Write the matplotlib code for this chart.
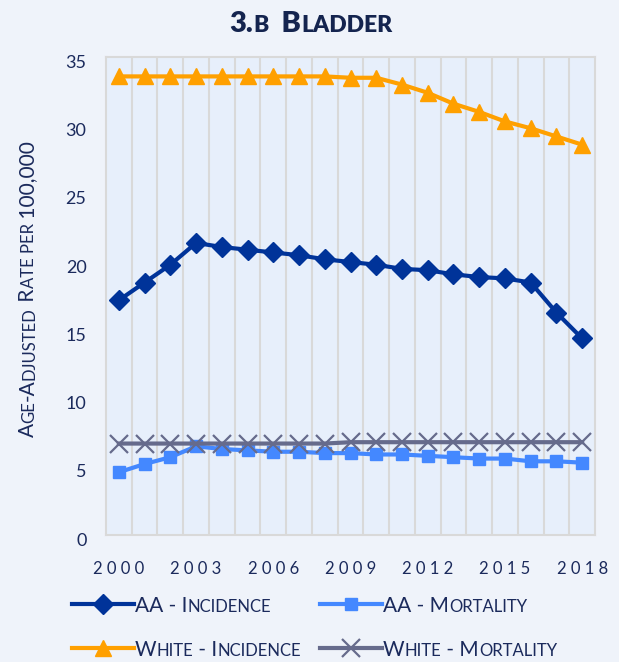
import matplotlib
matplotlib.use("Agg")
import matplotlib.pyplot as plt
from matplotlib.lines import Line2D
from matplotlib.transforms import offset_copy, ScaledTranslation

# --- data ---
years = list(range(2000, 2019))
aa_incidence = [17.2, 18.5, 19.8, 21.4, 21.1, 20.9, 20.7, 20.5, 20.2, 20.0,
                19.8, 19.5, 19.4, 19.1, 18.9, 18.8, 18.5, 16.3, 14.4]
aa_mortality = [4.6, 5.2, 5.7, 6.5, 6.3, 6.2, 6.1, 6.1, 6.0, 6.0,
                5.9, 5.9, 5.8, 5.7, 5.6, 5.6, 5.4, 5.4, 5.3]
white_incidence = [33.6, 33.6, 33.6, 33.6, 33.6, 33.6, 33.6, 33.6, 33.6, 33.5,
                   33.5, 33.0, 32.4, 31.6, 31.0, 30.3, 29.8, 29.2, 28.6]
white_mortality = [6.7, 6.7, 6.7, 6.7, 6.7, 6.7, 6.7, 6.7, 6.7, 6.8,
                   6.8, 6.8, 6.8, 6.8, 6.8, 6.8, 6.8, 6.8, 6.8]
label_years = [2000, 2003, 2006, 2009, 2012, 2015, 2018]
y_ticks = [0, 5, 10, 15, 20, 25, 30, 35]

series = [
    ("AA - Incidence", aa_incidence, "#003399", "D", 9.8),
    ("AA - Mortality", aa_mortality, "#4488FF", "s", 8.5),
    ("White - Incidence", white_incidence, "#FFA000", "^", 11),
    ("White - Mortality", white_mortality, "#666B8C", "x", 13),
]

TEXT = "#1B2A5C"
FONT = "Lato"
W, H = 619, 662


def px(x, y):
    return x / W, 1 - y / H


def caps_runs(s):
    # split a string into (text, is_small) runs to fake small caps
    runs = []
    pending = ""
    for ch in s:
        if ch == " ":
            pending += ch
            continue
        small = ch.islower()
        c = pending + ch.upper()
        pending = ""
        if runs and runs[-1][1] == small:
            runs[-1][0] += c
        else:
            runs.append([c, small])
    return runs


def small_caps(fig, x, y, s, big, small, rotation=0, align="left", color=TEXT, **kw):
    renderer = fig.canvas.get_renderer()
    texts = []
    for part, is_small in caps_runs(s):
        t = fig.text(x, y, part, fontsize=small if is_small else big,
                     ha="left", va="baseline", rotation=rotation,
                     rotation_mode="anchor", color=color, family=FONT, **kw)
        texts.append(t)
    sizes = []
    for t in texts:
        bb = t.get_window_extent(renderer)
        sizes.append(bb.height if rotation else bb.width)
    pos = -sum(sizes) / 2 if align == "center" else 0
    for t, w in zip(texts, sizes):
        if rotation:
            t.set_transform(offset_copy(fig.transFigure, fig=fig, x=0, y=pos, units="dots"))
        else:
            t.set_transform(offset_copy(fig.transFigure, fig=fig, x=pos, y=0, units="dots"))
        pos += w


fig = plt.figure(figsize=(6.19, 6.62), dpi=100, facecolor="#EFF3FA")
ax = fig.add_axes([106 / W, 1 - 535 / H, (595 - 106) / W, (535 - 57.3) / H])
ax.set_facecolor("#E7EFFB")

x = list(range(len(years)))
for name, vals, color, marker, ms in series:
    ax.plot(x, vals, color=color, lw=3, marker=marker, markersize=ms,
            markeredgewidth=1.6 if marker == "x" else 1, markeredgecolor=color,
            markerfacecolor=color, zorder=3)

ax.set_xlim(-0.5, len(years) - 0.5)
ax.set_ylim(0, 35)
ax.set_xticks([years.index(yr) for yr in label_years])
ax.set_xticklabels([" ".join(str(yr)) for yr in label_years])
ax.set_xticks([i + 0.5 for i in range(len(years) - 1)], minor=True)
ax.grid(True, which="minor", axis="x", color="#D9D9D9", lw=1.5)
ax.set_yticks(y_ticks)
ax.tick_params(axis="both", which="both", length=0, colors=TEXT)
ax.tick_params(axis="x", labelsize=12, pad=19)
ax.tick_params(axis="y", labelsize=13, pad=14)
for lab in ax.get_xticklabels():
    lab.set_family(FONT)
# the reference sets its y labels a few pixels under each tick
shift = ScaledTranslation(0, -4 / 100, fig.dpi_scale_trans)
for lab in ax.get_yticklabels():
    lab.set_family(FONT)
    lab.set_transform(lab.get_transform() + shift)
for sp in ax.spines.values():
    sp.set_color("#D9D9D9")
    sp.set_linewidth(1.5)

# title and axis label in small caps
tx, ty = px(311, 32)
small_caps(fig, tx, ty, "3.b  Bladder", 21, 16.5, align="center",
           fontweight="heavy", color="#14244F")
lx, ly = px(34, 289)
small_caps(fig, lx, ly, "Age-Adjusted Rate per 100,000", 15, 12, rotation=90, align="center")

# legend drawn by hand in two rows
legend_pos = [(72, 604), (320, 604), (72, 648), (320, 648)]
for (name, vals, color, marker, ms), (lx0, ly0) in zip(series, legend_pos):
    x0, y0 = px(lx0, ly0)
    x1, _ = px(lx0 + 62, ly0)
    fig.add_artist(Line2D([x0, (x0 + x1) / 2, x1], [y0, y0, y0], transform=fig.transFigure,
                          color=color, lw=3, marker=marker, markersize=ms, markevery=[1],
                          markeredgewidth=1.6 if marker == "x" else 1,
                          markeredgecolor=color, markerfacecolor=color))
    bx, by = px(lx0 + 63, ly0 + 8)
    small_caps(fig, bx, by, name, 15, 12)

fig.savefig("out.png", dpi=100, facecolor=fig.get_facecolor())
